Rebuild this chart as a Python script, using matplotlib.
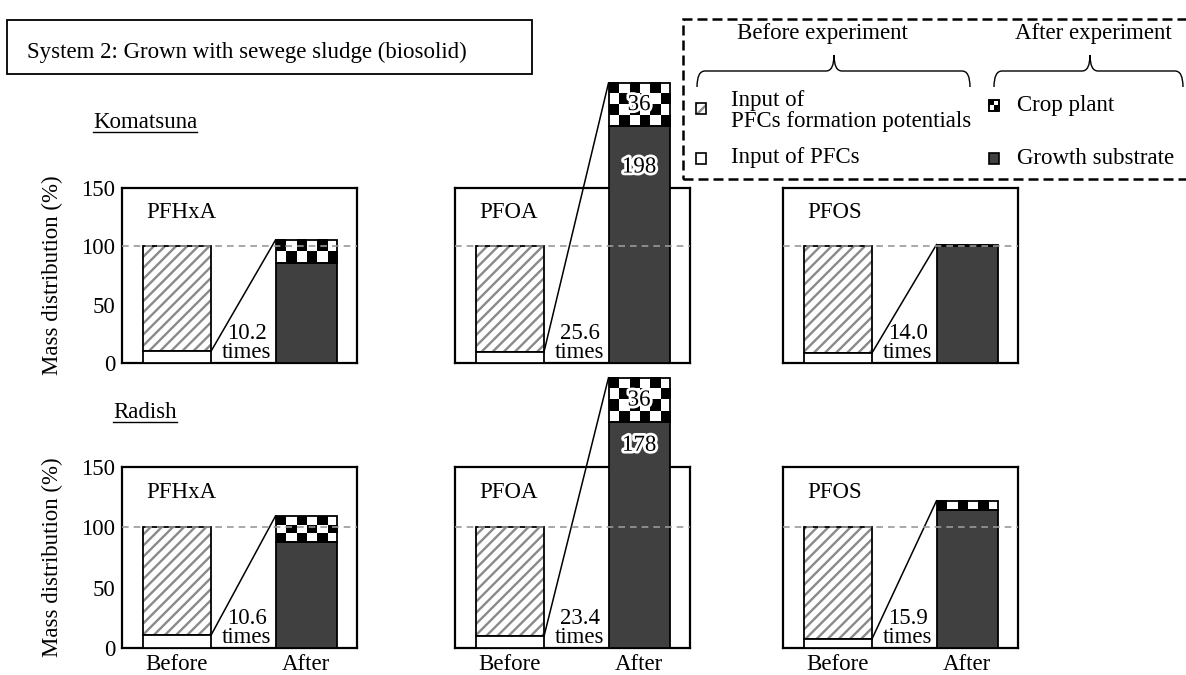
import numpy as np
import matplotlib.pyplot as plt
from matplotlib.patches import Rectangle, PathPatch
from matplotlib.path import Path
from matplotlib.lines import Line2D
import matplotlib.patheffects as pe

plt.rcParams['font.family'] = ['Liberation Serif', 'DejaVu Serif']
plt.rcParams['hatch.linewidth'] = 1.7

# data (mass distribution, %)
plants = ['Komatsuna', 'Radish']
compounds = ['PFHxA', 'PFOA', 'PFOS']
before_total = 100
before_pfc = [[10.0, 9.5, 8.6], [10.5, 9.7, 7.5]]
after_substrate = [[85.6, 203, 100.5], [88, 187, 114]]
after_crop = [[19.8, 37, 1.0], [21.4, 37, 8]]
ratio_labels = [['10.2', '25.6', '14.0'], ['10.6', '23.4', '15.9']]
pfoa_substrate_label = ['198', '178']
pfoa_crop_label = ['36', '36']
xlabels = ['Before', 'After']

W, H = 1186, 675
fig = plt.figure(figsize=(W / 100, H / 100), dpi=100)

col_left = [122, 455, 783]
col_w = 235
row_top = [188, 467]
row_bot = [363, 648]

hatch_gray = '#8a8a8a'
dark = '#404040'
fs = 16.5
wb, wa = 0.527, 0.473
cell_h = 8.5


def fx(x):
    return x / W


def fy(y):
    return 1 - y / H


for r in range(2):
    for c in range(3):
        ax = fig.add_axes([fx(col_left[c]), fy(row_bot[r]), col_w / W, (row_bot[r] - row_top[r]) / H])
        pfc = before_pfc[r][c]
        sub = after_substrate[r][c]
        crop = after_crop[r][c]

        # before: PFCs + formation potentials
        ax.bar(0, before_total - pfc, bottom=pfc, width=wb, color='white', edgecolor=hatch_gray,
               hatch='///', linewidth=0, zorder=2)
        ax.bar(0, before_total - pfc, bottom=pfc, width=wb, facecolor='none', edgecolor='black',
               linewidth=1.3, zorder=3)
        ax.bar(0, pfc, width=wb, color='white', edgecolor='black', linewidth=1.3, zorder=3)

        # after: growth substrate + crop plant (checker)
        ax.bar(1, sub, width=wa, color=dark, edgecolor='black', linewidth=1.3, zorder=3, clip_on=False)
        nrows = max(1, int(round(crop / cell_h)))
        board = np.add.outer(np.arange(nrows), np.arange(6)) % 2
        ax.imshow(board, cmap='gray', vmin=0, vmax=1, interpolation='nearest', aspect='auto',
                  extent=(1 - wa / 2, 1 + wa / 2, sub, sub + crop), origin='upper',
                  zorder=2.5, clip_on=False)
        ax.bar(1, crop, bottom=sub, width=wa, facecolor='none', edgecolor='black', linewidth=1.3,
               zorder=3, clip_on=False)

        ax.plot([wb / 2, 1 - wa / 2], [pfc, sub + crop], color='black', lw=1.1, zorder=4, clip_on=False)
        ax.text(0.54, 0.3, ratio_labels[r][c] + '\ntimes', ha='center', va='bottom', fontsize=fs,
                linespacing=0.85, zorder=5)

        if compounds[c] == 'PFOA':
            halo = [pe.withStroke(linewidth=4, foreground='white')]
            ax.text(1, sub + crop / 2, pfoa_crop_label[r], ha='center', va='center', fontsize=fs,
                    path_effects=halo, zorder=6)
            ax.text(1, 168, pfoa_substrate_label[r], ha='center', va='center', fontsize=fs,
                    path_effects=halo, zorder=6)

        ax.axhline(100, color='#999999', lw=1.2, ls=(0, (4, 3)), zorder=4)
        ax.set_xlim(-0.426, 1.395)
        ax.set_ylim(0, 150)
        for s in ax.spines.values():
            s.set_linewidth(1.6)
        ax.tick_params(length=0, pad=5, labelsize=fs)
        if c == 0:
            ax.set_yticks([0, 50, 100, 150])
            ax.set_ylabel('Mass distribution (%)', fontsize=fs, labelpad=13)
        else:
            ax.set_yticks([])
        if r == 1:
            ax.set_xticks([0, 1], xlabels)
            ax.tick_params(axis='x', pad=4.5)
        else:
            ax.set_xticks([])
        axh = row_bot[r] - row_top[r]
        ax.text(0.105, 1 - 25 / axh, compounds[c], transform=ax.transAxes, ha='left', va='center',
                fontsize=fs)

# title box
fig.add_artist(Rectangle((fx(7), fy(74)), 525 / W, 54 / H, transform=fig.transFigure,
                         fill=False, lw=1.3, color='black'))
fig.text(fx(27), fy(52), 'System 2: Grown with sewege sludge (biosolid)', va='center', fontsize=fs)

# plant names (underlined)
plant_y = [123, 413]
plant_txt = []
for name, y in zip(plants, plant_y):
    plant_txt.append(fig.text(fx(145), fy(y), name, ha='center', va='center', fontsize=fs))

# legend
fig.add_artist(Rectangle((fx(683), fy(179)), (1200 - 683) / W, 160 / H, transform=fig.transFigure,
                         fill=False, lw=1.8, ls=(0, (4, 2)), color='black', clip_on=False))
fig.text(fx(822), fy(33), 'Before experiment', ha='center', va='center', fontsize=fs)
fig.text(fx(1093), fy(33), 'After experiment', ha='center', va='center', fontsize=fs)


def brace(x0, x1, xc, y_end=87, y_bar=71, y_tip=55, r=8):
    pts = [(x0, y_end), (x0, y_bar), (x0 + r, y_bar), (xc - r, y_bar), (xc, y_bar), (xc, y_tip),
           (xc, y_bar), (xc + r, y_bar), (x1 - r, y_bar), (x1, y_bar), (x1, y_end)]
    codes = [Path.MOVETO, Path.CURVE3, Path.CURVE3, Path.LINETO, Path.CURVE3, Path.CURVE3,
             Path.CURVE3, Path.CURVE3, Path.LINETO, Path.CURVE3, Path.CURVE3]
    verts = [(fx(x), fy(y)) for x, y in pts]
    fig.add_artist(PathPatch(Path(verts, codes), transform=fig.transFigure, fill=False, lw=1.0,
                             color='black'))


brace(697, 970, 834)
brace(994, 1183, 1090)

msz = 11


def marker(xc, yc, **kw):
    p = Rectangle((fx(xc - msz / 2), fy(yc + msz / 2)), msz / W, msz / H, transform=fig.transFigure, **kw)
    fig.add_artist(p)


marker(701, 108, facecolor='white', edgecolor=hatch_gray, hatch='///', lw=0)
marker(701, 108, fill=False, edgecolor='black', lw=1.2)
marker(701, 158, facecolor='white', edgecolor='black', lw=1.2)
marker(994, 158, facecolor=dark, edgecolor='black', lw=1.2)
marker(994, 105, facecolor='white', edgecolor='black', lw=1.2)
for dx, dy in [(-msz / 4, -msz / 4), (msz / 4, msz / 4)]:
    fig.add_artist(Rectangle((fx(994 + dx - msz / 4), fy(105 + dy + msz / 4)), (msz / 2) / W, (msz / 2) / H,
                             transform=fig.transFigure, facecolor='black', lw=0))
marker(994, 105, fill=False, edgecolor='black', lw=1.2)

fig.text(fx(731), fy(111), 'Input of\nPFCs formation potentials', va='center', fontsize=fs, linespacing=1.05)
fig.text(fx(731), fy(158), 'Input of PFCs', va='center', fontsize=fs)
fig.text(fx(1017), fy(105), 'Crop plant', va='center', fontsize=fs)
fig.text(fx(1017), fy(158), 'Growth substrate', va='center', fontsize=fs)

# underline plant names
fig.canvas.draw()
inv = fig.transFigure.inverted()
for t in plant_txt:
    bb = t.get_window_extent()
    (x0, y0), (x1, _) = inv.transform([(bb.x0, bb.y0), (bb.x1, bb.y1)])
    fig.add_artist(Line2D([x0, x1], [y0 + 2 / H, y0 + 2 / H], transform=fig.transFigure, color='black', lw=1.0))

fig.savefig('out.png', dpi=100)
